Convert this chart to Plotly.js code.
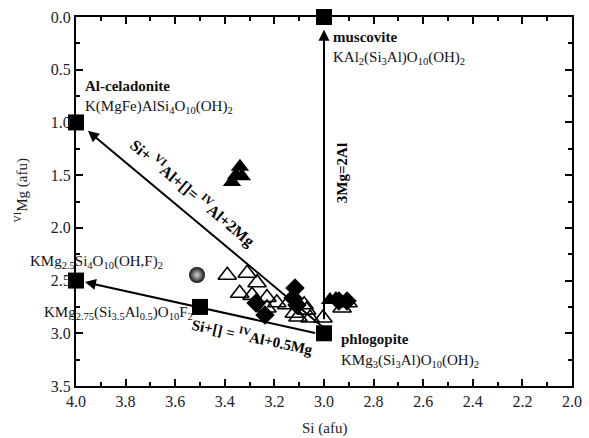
<!DOCTYPE html>
<html>
<head>
<meta charset="utf-8">
<script src="https://cdn.plot.ly/plotly-3.0.1.min.js"></script>
<style>html,body{margin:0;padding:0;background:#fff;}#chart{width:589px;height:438px;}</style>
</head>
<body>
<div id="chart"></div>
<script>
// End-member compositions (Si afu, VI-Mg afu)
var endNames = ["Al-celadonite", "muscovite", "phlogopite", "KMg2.5Si4", "KMg2.75"];
var endSi = [4.0, 3.0, 3.0, 4.0, 3.5];
var endMg = [1.0, 0.0, 3.0, 2.5, 2.75];

// Open triangles
var openTriSi = [3.39, 3.31, 3.27, 3.34, 3.29, 3.23, 3.19, 3.23, 3.15, 3.12, 3.07, 3.08, 3.105, 3.056, 3.004, 2.927, 2.903];
var openTriMg = [2.45, 2.43, 2.52, 2.62, 2.64, 2.66, 2.71, 2.76, 2.73, 2.81, 2.78, 2.73, 2.845, 2.855, 2.855, 2.76, 2.71];

// Filled triangles
var fillTriSi = [3.339, 3.355, 3.371, 3.331, 2.976, 2.952];
var fillTriMg = [1.42, 1.50, 1.565, 1.51, 2.685, 2.675];

// Filled diamonds
var diaSi = [3.117, 3.125, 3.274, 3.238, 3.109, 2.94, 2.907];
var diaMg = [2.57, 2.665, 2.713, 2.826, 2.732, 2.694, 2.694];

// Sphere
var sphSi = [3.512];
var sphMg = [2.447];

// Axis ticks
var xTicks = [4.0, 3.8, 3.6, 3.4, 3.2, 3.0, 2.8, 2.6, 2.4, 2.2, 2.0];
var yTicks = [0.0, 0.5, 1.0, 1.5, 2.0, 2.5, 3.0, 3.5];

var FONT = "Liberation Serif, Times New Roman, serif";

var traces = [
  {x: openTriSi, y: openTriMg, mode: "markers", type: "scatter",
   marker: {symbol: "triangle-up-open", size: 16, color: "#000", line: {width: 1.6, color: "#000"}}, cliponaxis: false},
  {x: diaSi, y: diaMg, mode: "markers", type: "scatter",
   marker: {symbol: "diamond", size: 15, color: "#000", line: {width: 0}}, cliponaxis: false},
  {x: fillTriSi, y: fillTriMg, mode: "markers", type: "scatter",
   marker: {symbol: "triangle-up", size: 16, color: "#000", line: {width: 0}}, cliponaxis: false},
  {x: sphSi, y: sphMg, mode: "markers", type: "scatter",
   marker: {symbol: "circle", size: 16, color: "#111", gradient: {type: "radial", color: "#d8d8d8"}, line: {width: 0}}, cliponaxis: false},
  {x: endSi, y: endMg, text: endNames, mode: "markers", type: "scatter",
   marker: {symbol: "square", size: 16, color: "#000", line: {width: 0}}, cliponaxis: false}
];

function arrow(headX, headY, tailX, tailY) {
  return {x: headX, y: headY, ax: tailX, ay: tailY, xref: "x", yref: "y", axref: "x", ayref: "y",
    text: "", showarrow: true, arrowhead: 2, arrowsize: 1.1, arrowwidth: 2, arrowcolor: "#000", standoff: 0, startstandoff: 0};
}
function label(x, y, txt, opts) {
  var a = {x: x, y: y, xref: "x", yref: "y", text: txt, showarrow: false,
    font: {family: FONT, size: 15, color: "#111"}, xanchor: "left", yanchor: "middle"};
  for (var k in opts) a[k] = opts[k];
  return a;
}

var annotations = [
  arrow(3.952, 1.08, 3.0, 2.95),
  arrow(3.0, 0.12, 3.0, 2.88),
  arrow(3.964, 2.514, 3.03, 3.0),
  label(3.972, 0.655, "<b>Al-celadonite</b>", {}),
  label(3.972, 0.85, "K(MgFe)AlSi<sub>4</sub>O<sub>10</sub>(OH)<sub>2</sub>", {}),
  label(2.972, 0.19, "<b>muscovite</b>", {}),
  label(2.972, 0.39, "KAl<sub>2</sub>(Si<sub>3</sub>Al)O<sub>10</sub>(OH)<sub>2</sub>", {}),
  label(2.94, 3.05, "<b>phlogopite</b>", {}),
  label(2.94, 3.26, "KMg<sub>3</sub>(Si<sub>3</sub>Al)O<sub>10</sub>(OH)<sub>2</sub>", {}),
  label(-0.097, 0.336, "KMg<sub>2.5</sub>Si<sub>4</sub>O<sub>10</sub>(OH,F)<sub>2</sub>", {xref: "paper", yref: "paper"}),
  label(-0.068, 0.198, "KMg<sub>2.75</sub>(Si<sub>3.5</sub>Al<sub>0.5</sub>)O<sub>10</sub>F<sub>2</sub>", {xref: "paper", yref: "paper"}),
  label(3.528, 1.66, "<b>Si+ <sup>VI</sup>Al+[]= <sup>IV</sup>Al+2Mg</b>", {xanchor: "center", textangle: 40, font: {family: FONT, size: 16, color: "#000"}}),
  label(2.927, 1.48, "<b>3Mg=2Al</b>", {xanchor: "center", textangle: -90, font: {family: FONT, size: 15, color: "#000"}}),
  label(3.29, 3.03, "<b>Si+[] = <sup>IV</sup>Al+0.5Mg</b>", {xanchor: "center", textangle: 12, font: {family: FONT, size: 15, color: "#000"}}),
  {x: 0.5, y: -0.115, xref: "paper", yref: "paper", text: "Si (afu)", showarrow: false,
   font: {family: FONT, size: 15, color: "#222"}, xanchor: "center", yanchor: "middle"},
  {x: -0.11, y: 0.53, xref: "paper", yref: "paper", text: "<sup>VI</sup>Mg (afu)", showarrow: false, textangle: -90,
   font: {family: FONT, size: 15, color: "#222"}, xanchor: "center", yanchor: "middle"}
];

var layout = {
  width: 589, height: 438,
  margin: {l: 76, r: 17, t: 17, b: 52},
  paper_bgcolor: "#fff", plot_bgcolor: "#fff",
  showlegend: false,
  font: {family: FONT, size: 16, color: "#222"},
  xaxis: {
    range: [4.0, 2.0], tickvals: xTicks, ticktext: xTicks.map(function(v){return v.toFixed(1);}),
    ticks: "inside", ticklen: 7, tickwidth: 2, tickcolor: "#000",
    minor: {dtick: 0.1, ticks: "inside", ticklen: 4, tickwidth: 2, tickcolor: "#000"},
    showline: true, linewidth: 2, linecolor: "#000", mirror: "ticks",
    showgrid: false, zeroline: false, tickfont: {family: FONT, size: 16, color: "#222"}
  },
  yaxis: {
    range: [3.5, 0.0], tickvals: yTicks, ticktext: yTicks.map(function(v){return v.toFixed(1);}),
    ticks: "inside", ticklen: 7, tickwidth: 2, tickcolor: "#000",
    minor: {dtick: 0.25, ticks: "inside", ticklen: 4, tickwidth: 2, tickcolor: "#000"},
    showline: true, linewidth: 2, linecolor: "#000", mirror: "ticks",
    showgrid: false, zeroline: false, tickfont: {family: FONT, size: 16, color: "#222"}
  },
  annotations: annotations
};

Plotly.newPlot("chart", traces, layout, {displayModeBar: false, staticPlot: true});
</script>
</body>
</html>
